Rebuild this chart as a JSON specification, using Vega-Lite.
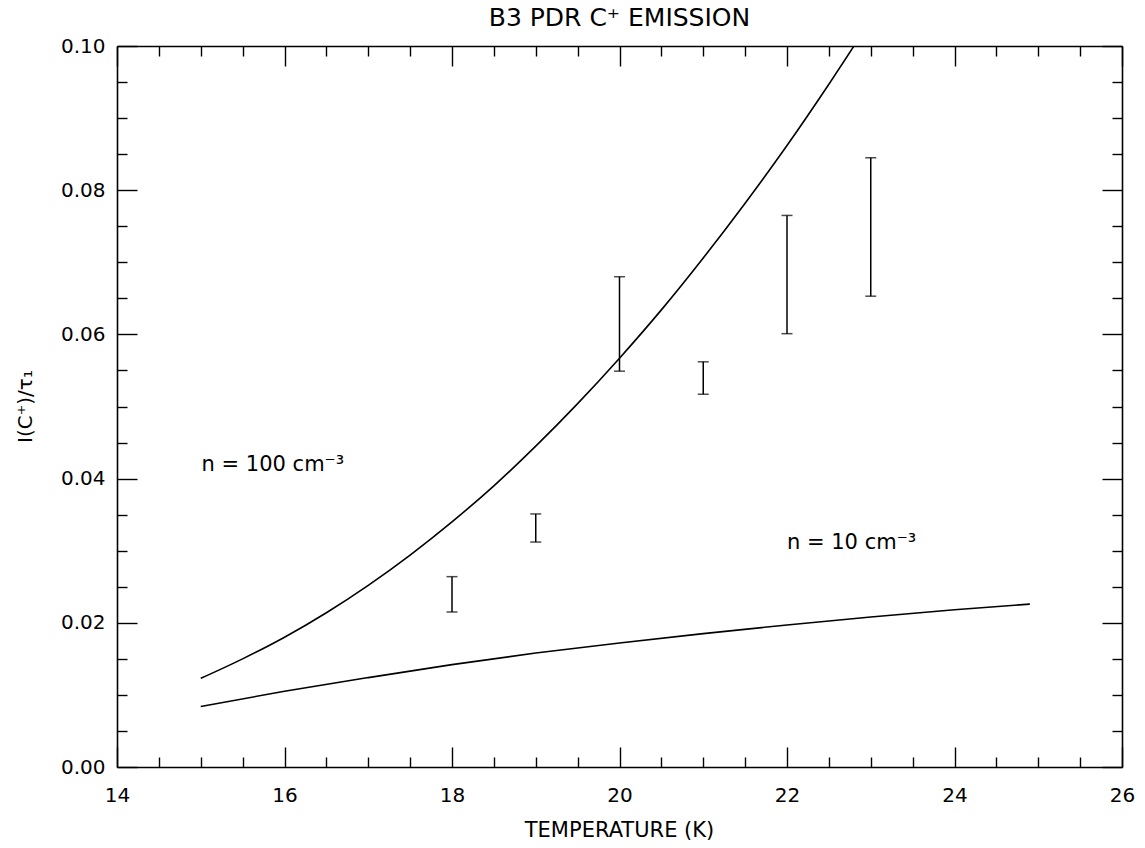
{
  "$schema": "https://vega.github.io/schema/vega-lite/v6.json",
  "autosize": "none",
  "width": 1005,
  "height": 721,
  "padding": {"left": 117, "top": 46, "right": 23, "bottom": 81},
  "background": "white",
  "config": {
    "view": {"stroke": null},
    "font": "DejaVu Sans",
    "axis": {"domainColor": "black", "domainWidth": 1.6, "tickColor": "black", "tickWidth": 1.4, "grid": false, "labelColor": "black", "titleColor": "black", "labelFont": "DejaVu Sans", "titleFont": "DejaVu Sans", "labelFontSize": 20, "titleFontSize": 20, "titleFontWeight": "normal"}
  },
  "title": {"text": "B3 PDR C⁺ EMISSION", "font": "DejaVu Sans", "fontSize": 25, "fontWeight": "normal", "color": "black", "anchor": "middle", "frame": "group", "offset": 5},
  "datasets": {
    "n100": [
      {"T": 15.0, "I": 0.0123}, {"T": 15.5, "I": 0.0150}, {"T": 16.0, "I": 0.0180}, {"T": 16.5, "I": 0.0214},
      {"T": 17.0, "I": 0.0252}, {"T": 17.5, "I": 0.0294}, {"T": 18.0, "I": 0.0340}, {"T": 18.5, "I": 0.0390},
      {"T": 19.0, "I": 0.0445}, {"T": 19.5, "I": 0.0504}, {"T": 20.0, "I": 0.0567}, {"T": 20.5, "I": 0.0634},
      {"T": 21.0, "I": 0.0706}, {"T": 21.5, "I": 0.0782}, {"T": 22.0, "I": 0.0862}, {"T": 22.5, "I": 0.0947},
      {"T": 23.0, "I": 0.1036}
    ],
    "n10": [
      {"T": 15.0, "I": 0.0084}, {"T": 16.0, "I": 0.0105}, {"T": 17.0, "I": 0.0124}, {"T": 18.0, "I": 0.0142},
      {"T": 19.0, "I": 0.0158}, {"T": 20.0, "I": 0.0172}, {"T": 21.0, "I": 0.0185}, {"T": 22.0, "I": 0.0197},
      {"T": 23.0, "I": 0.0208}, {"T": 24.0, "I": 0.0218}, {"T": 24.9, "I": 0.0226}
    ],
    "bars": [
      {"T": 18, "lo": 0.0215, "hi": 0.0264},
      {"T": 19, "lo": 0.0312, "hi": 0.0351},
      {"T": 20, "lo": 0.0549, "hi": 0.0680},
      {"T": 21, "lo": 0.0517, "hi": 0.0562},
      {"T": 22, "lo": 0.0601, "hi": 0.0765},
      {"T": 23, "lo": 0.0653, "hi": 0.0845}
    ],
    "labels": [
      {"T": 15.01, "I": 0.0419, "label": "n = 100 cm⁻³"},
      {"T": 22.0, "I": 0.0311, "label": "n = 10 cm⁻³"}
    ]
  },
  "resolve": {"axis": {"x": "independent", "y": "independent"}},
  "layer": [
    {
      "data": {"name": "n100"},
      "mark": {"type": "line", "color": "black", "strokeWidth": 1.6, "clip": true, "interpolate": "monotone"},
      "encoding": {
        "x": {"field": "T", "type": "quantitative", "scale": {"domain": [14, 26], "nice": false, "zero": false},
          "axis": {"orient": "bottom", "title": "TEMPERATURE (K)", "titleFontSize": 21, "values": [14,14.5,15,15.5,16,16.5,17,17.5,18,18.5,19,19.5,20,20.5,21,21.5,22,22.5,23,23.5,24,24.5,25,25.5,26],
            "labelExpr": "datum.value % 2 === 0 ? format(datum.value, 'd') : ''",
            "tickSize": {"condition": {"test": "datum.value % 2 === 0", "value": -20}, "value": -10},
            "labelPadding": 38, "labelFlush": false, "labelOverlap": false, "titleX": 502, "titleY": 63, "titleBaseline": "middle", "titleAnchor": "middle"}},
        "y": {"field": "I", "type": "quantitative", "scale": {"domain": [0, 0.1], "nice": false, "zero": false},
          "axis": {"orient": "left", "title": "I(C⁺)/τ₁", "values": [0,0.005,0.01,0.015,0.02,0.025,0.03,0.035,0.04,0.045,0.05,0.055,0.06,0.065,0.07,0.075,0.08,0.085,0.09,0.095,0.1],
            "labelExpr": "abs(round(datum.value*50) - datum.value*50) < 1e-6 ? format(datum.value, '.2f') : ''",
            "tickSize": {"condition": {"test": "abs(round(datum.value*50) - datum.value*50) < 1e-6", "value": -20}, "value": -10},
            "labelPadding": 32, "labelFlush": false, "labelOverlap": false, "titleX": -92, "titleY": 360, "titleAngle": -90, "titleBaseline": "middle", "titleAlign": "center"}}
      }
    },
    {
      "data": {"name": "n10"},
      "mark": {"type": "line", "color": "black", "strokeWidth": 1.6, "interpolate": "monotone"},
      "encoding": {
        "x": {"field": "T", "type": "quantitative",
          "axis": {"orient": "top", "title": null, "labels": false, "values": [14,14.5,15,15.5,16,16.5,17,17.5,18,18.5,19,19.5,20,20.5,21,21.5,22,22.5,23,23.5,24,24.5,25,25.5,26],
            "tickSize": {"condition": {"test": "datum.value % 2 === 0", "value": -20}, "value": -10}}},
        "y": {"field": "I", "type": "quantitative",
          "axis": {"orient": "right", "title": null, "labels": false, "values": [0,0.005,0.01,0.015,0.02,0.025,0.03,0.035,0.04,0.045,0.05,0.055,0.06,0.065,0.07,0.075,0.08,0.085,0.09,0.095,0.1],
            "tickSize": {"condition": {"test": "abs(round(datum.value*50) - datum.value*50) < 1e-6", "value": -20}, "value": -10}}}
      }
    },
    {
      "data": {"name": "bars"},
      "mark": {"type": "rule", "color": "black", "strokeWidth": 1.5},
      "encoding": {
        "x": {"field": "T", "type": "quantitative", "axis": null},
        "y": {"field": "lo", "type": "quantitative", "axis": null},
        "y2": {"field": "hi"}
      }
    },
    {
      "data": {"name": "bars"},
      "mark": {"type": "tick", "orient": "horizontal", "color": "black", "size": 11, "thickness": 1.5},
      "encoding": {
        "x": {"field": "T", "type": "quantitative", "axis": null},
        "y": {"field": "lo", "type": "quantitative", "axis": null}
      }
    },
    {
      "data": {"name": "bars"},
      "mark": {"type": "tick", "orient": "horizontal", "color": "black", "size": 11, "thickness": 1.5},
      "encoding": {
        "x": {"field": "T", "type": "quantitative", "axis": null},
        "y": {"field": "hi", "type": "quantitative", "axis": null}
      }
    },
    {
      "data": {"name": "labels"},
      "mark": {"type": "text", "align": "left", "baseline": "middle", "font": "DejaVu Sans", "fontSize": 21, "color": "black"},
      "encoding": {
        "x": {"field": "T", "type": "quantitative", "axis": null},
        "y": {"field": "I", "type": "quantitative", "axis": null},
        "text": {"field": "label"}
      }
    }
  ]
}
